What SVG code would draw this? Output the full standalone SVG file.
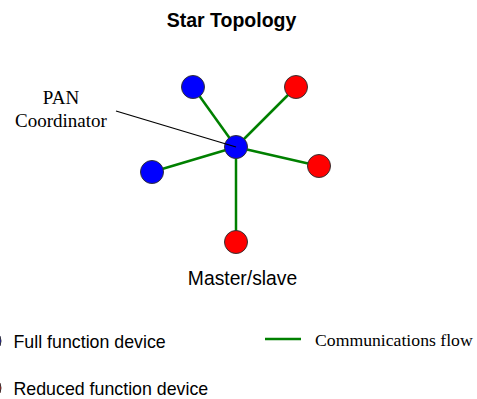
<svg xmlns="http://www.w3.org/2000/svg" width="477" height="399" viewBox="0 0 477 399">
  <style>
    .sans { font-family: "Liberation Sans", Arial, sans-serif; fill: #000; }
    .serif { font-family: "Liberation Serif", "Times New Roman", serif; fill: #000; }
    .link { stroke: #008000; stroke-width: 2.5; fill: none; }
    .ffd { fill: #0000ff; stroke: #333; stroke-width: 1; }
    .rfd { fill: #ff0000; stroke: #333; stroke-width: 1; }
  </style>
  <rect width="477" height="399" fill="#fff"/>
  <text class="sans" x="231.5" y="26.5" font-size="19.5" font-weight="bold" text-anchor="middle">Star Topology</text>

  <g id="connectors">
    <line class="link" x1="236" y1="147" x2="193" y2="87"/>
    <line class="link" x1="236" y1="147" x2="296" y2="87"/>
    <line class="link" x1="236" y1="147" x2="152" y2="172"/>
    <line class="link" x1="236" y1="147" x2="319" y2="166"/>
    <line class="link" x1="236" y1="147" x2="236" y2="242"/>
  </g>

  <g id="node-tl"><circle class="ffd" cx="193" cy="87" r="11.5"/></g>
  <g id="node-tr"><circle class="rfd" cx="296" cy="87" r="11.5"/></g>
  <g id="node-l"><circle class="ffd" cx="152" cy="172" r="11.5"/></g>
  <g id="node-r"><circle class="rfd" cx="319" cy="166" r="11.5"/></g>
  <g id="node-b"><circle class="rfd" cx="236" cy="242" r="11.5"/></g>
  <g id="node-center"><circle class="ffd" cx="236" cy="147" r="11.5"/></g>

  <g id="pan-label">
    <line x1="116" y1="111" x2="236" y2="147" stroke="#000" stroke-width="1.3"/>
    <text class="serif" x="61" y="104" font-size="19" text-anchor="middle">PAN</text>
    <text class="serif" x="61" y="127" font-size="19" text-anchor="middle">Coordinator</text>
  </g>

  <text class="sans" x="242.5" y="285" font-size="19.3" text-anchor="middle">Master/slave</text>

  <g id="legend">
    <circle class="ffd" cx="-11" cy="341" r="12"/>
    <text class="sans" x="13.5" y="347.5" font-size="17.8">Full function device</text>
    <circle class="rfd" cx="-11" cy="388" r="12"/>
    <text class="sans" x="13.5" y="394.5" font-size="17.8">Reduced function device</text>
    <line class="link" x1="265" y1="339" x2="301" y2="339" stroke-width="2"/>
    <text class="serif" x="315" y="345.5" font-size="17.7">Communications flow</text>
  </g>
</svg>
